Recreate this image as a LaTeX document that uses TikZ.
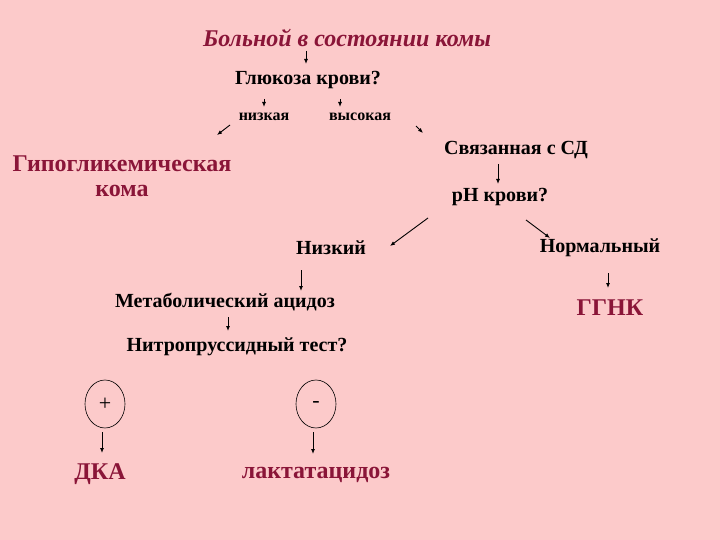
\documentclass[tikz,border=0pt]{standalone}
\usepackage{fontspec}
\setmainfont{Liberation Serif}
\usetikzlibrary{arrows.meta,shapes.geometric}
\definecolor{bg}{HTML}{FCCACA}
\definecolor{dred}{HTML}{8A1538}
\tikzset{
 x=1pt,y=-1pt,
 t/.style={inner sep=1pt,font=\bfseries\fontsize{20}{22}\selectfont},
 s/.style={inner sep=1pt,font=\bfseries\fontsize{16}{18}\selectfont},
 r/.style={inner sep=1pt,text=dred,font=\bfseries\fontsize{24}{28}\selectfont},
 ar/.style={-{Latex[length=5pt,width=4pt]},line width=0.9pt},
 circ/.style={draw,ellipse,minimum width=40pt,minimum height=48pt,line width=0.6pt,font=\fontsize{22}{24}\selectfont}
}
\begin{document}
\begin{tikzpicture}
\fill[bg] (0,0) rectangle (720,540);
\useasboundingbox (0,0) rectangle (720,540);
\node[r,font=\bfseries\itshape\fontsize{24}{28}\selectfont] (a) at (347,38) {Больной в состоянии комы};
\node[t] (b) at (308,80) {Глюкоза крови?};
\coordinate (a1) at (306,51); \coordinate (a2) at (306,64);
\draw[ar] (a1) -- (a2);
\node[s] (lo) at (264,117) {низкая};
\node[s] (hi) at (360,117) {высокая};
\coordinate (l1) at (264,99); \coordinate (l2) at (264,107);
\coordinate (h1) at (340,99); \coordinate (h2) at (340,107);
\draw[ar] (l1) -- (l2); \draw[ar] (h1) -- (h2);
\coordinate (d1) at (230,125); \coordinate (d2) at (217,135);
\coordinate (e1) at (416,126); \coordinate (e2) at (423,133);
\draw[ar] (d1) -- (d2); \draw[ar] (e1) -- (e2);
\node[r] (hyp) at (122,164) {Гипогликемическая};
\node[r] (hyp2) at (122,191) {кома};
\node[t] (sd) at (516,150) {Связанная с СД};
\coordinate (s1) at (498,164); \coordinate (s2) at (498,184);
\draw[ar] (s1) -- (s2);
\node[t] (ph) at (500,197) {pH крови?};
\coordinate (p1) at (428,218); \coordinate (p2) at (390,246);
\coordinate (q1) at (526,220); \coordinate (q2) at (550,238);
\draw[ar] (p1) -- (p2); \draw[ar] (q1) -- (q2);
\node[t] (low) at (331,248) {Низкий};
\node[t] (norm) at (600,248) {Нормальный};
\coordinate (m1) at (301,270); \coordinate (m2) at (301,291);
\draw[ar] (m1) -- (m2);
\node[t] (met) at (225,302) {Метаболический ацидоз};
\coordinate (n1) at (608,273); \coordinate (n2) at (608,288);
\draw[ar] (n1) -- (n2);
\node[r] (gg) at (610,308) {ГГНК};
\coordinate (k1) at (228,317); \coordinate (k2) at (228,331);
\draw[ar] (k1) -- (k2);
\node[t] (nit) at (237,347) {Нитропруссидный тест?};
\node[circ] (plus) at (105,404) {+};
\node[circ] (minus) at (316,404) {\raisebox{-3pt}{-}};
\coordinate (x1) at (102,432); \coordinate (x2) at (102,453);
\coordinate (y1) at (313,432); \coordinate (y2) at (313,454);
\draw[ar] (x1) -- (x2); \draw[ar] (y1) -- (y2);
\node[r] (dka) at (100,474) {ДКА};
\node[r] (lac) at (316,475) {лактатацидоз};
\end{tikzpicture}
\end{document}
